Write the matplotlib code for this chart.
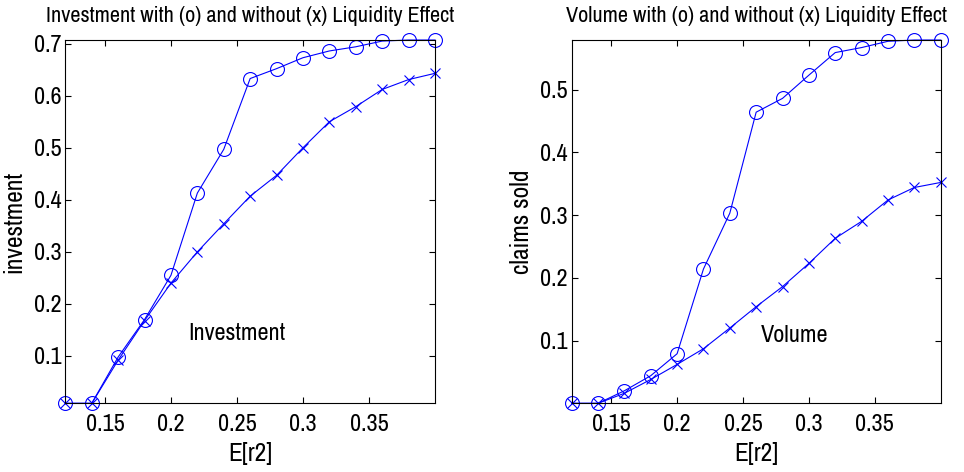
import numpy as np
import matplotlib
matplotlib.use("Agg")
import matplotlib.pyplot as plt
from matplotlib import font_manager
from matplotlib.textpath import TextPath
from matplotlib.font_manager import FontProperties

# pick a narrow sans face if one is around, like the Helvetica in the original
installed = {f.name for f in font_manager.fontManager.ttflist}
candidates = ['Liberation Sans Narrow', 'Nimbus Sans Narrow', 'Arimo Narrow', 'Archivo Narrow',
              'Roboto Condensed', 'PT Sans Narrow', 'Liberation Sans']
face = next(c for c in candidates if c in installed)
plt.rcParams['font.family'] = [face, 'DejaVu Sans']

# expected return grid
er2 = [0.12, 0.14, 0.16, 0.18, 0.20, 0.22, 0.24, 0.26, 0.28, 0.30, 0.32, 0.34, 0.36, 0.38, 0.40]

# investment, with (o) and without (x) liquidity effect
inv_liq = [0.009, 0.009, 0.098, 0.170, 0.255, 0.413, 0.497, 0.633, 0.652, 0.673, 0.686, 0.694, 0.705, 0.707, 0.707]
inv_noliq = [0.009, 0.009, 0.092, 0.168, 0.240, 0.300, 0.354, 0.407, 0.447, 0.500, 0.550, 0.579, 0.612, 0.631, 0.643]

# claims sold, with (o) and without (x) liquidity effect
vol_liq = [0.0, 0.0, 0.020, 0.044, 0.079, 0.214, 0.303, 0.464, 0.486, 0.523, 0.559, 0.567, 0.577, 0.579, 0.579]
vol_noliq = [0.0, 0.0, 0.016, 0.038, 0.062, 0.087, 0.120, 0.154, 0.186, 0.223, 0.263, 0.290, 0.324, 0.344, 0.352]

xticks = [0.15, 0.2, 0.25, 0.3, 0.35]
xticklabels = ['0.15', '0.2', '0.25', '0.3', '0.35']
inv_yticks = [0.1, 0.2, 0.3, 0.4, 0.5, 0.6, 0.7]
vol_yticks = [0.1, 0.2, 0.3, 0.4, 0.5]

title1 = 'Investment with (o) and without (x) Liquidity Effect'
title2 = 'Volume with (o) and without (x) Liquidity Effect'


def fit_size(s, px):
    # font size (pt at 100 dpi) that makes s about px pixels wide
    w = TextPath((0, 0), s, size=10, prop=FontProperties(family=face)).get_extents().width
    return 10 * px / (w * 100 / 72)


FS_T = fit_size(title1, 431) * 0.94
FS_TICK = fit_size('0.15', 37)
FS_LAB = FS_TICK * 1.05
FS_TXT = fit_size('Investment', 95)

fig = plt.figure(figsize=(9.64, 4.72), dpi=100)
ax1 = fig.add_axes([0.0678, 0.1455, 0.3834, 0.7697])
ax2 = fig.add_axes([0.593, 0.1455, 0.3828, 0.7697])

blue = (0, 0, 1)


def style(ax, yticks, ylim):
    ax.set_xlim(0.12, 0.40)
    ax.set_ylim(*ylim)
    ax.set_xticks(xticks)
    ax.set_xticklabels(xticklabels)
    ax.set_yticks(yticks)
    ax.set_yticklabels([f'{v:g}' for v in yticks])
    ax.tick_params(direction='in', top=True, right=True, length=4, width=0.8,
                   labelsize=FS_TICK)
    ax.tick_params(axis='x', pad=8)
    ax.tick_params(axis='y', pad=3)
    for s in ax.spines.values():
        s.set_linewidth(0.8)
    ax.set_xlabel('E[r2]', fontsize=FS_LAB, labelpad=5)


# investment panel
ax1.plot(er2, inv_liq, '-o', color=blue, lw=0.8, ms=10, mfc='none', mew=0.8, clip_on=False)
ax1.plot(er2, inv_noliq, '-x', color=blue, lw=0.8, ms=7, mew=0.8, clip_on=False)
style(ax1, inv_yticks, (0.009, 0.707))
ax1.set_ylabel('investment', fontsize=FS_LAB, labelpad=6)
ax1.set_title(title1, fontsize=FS_T, pad=13)
ax1.text(0.213, 0.144, 'Investment', fontsize=FS_TXT, ha='left', va='center')

# volume panel
ax2.plot(er2, vol_liq, '-o', color=blue, lw=0.8, ms=10, mfc='none', mew=0.8, clip_on=False)
ax2.plot(er2, vol_noliq, '-x', color=blue, lw=0.8, ms=7, mew=0.8, clip_on=False)
style(ax2, vol_yticks, (0.0, 0.579))
ax2.set_ylabel('claims sold', fontsize=FS_LAB, labelpad=5)
ax2.set_title(title2, fontsize=FS_T, pad=13)
ax2.text(0.2636, 0.108, 'Volume', fontsize=FS_TXT, ha='left', va='center')

fig.savefig('out.png', dpi=100)
